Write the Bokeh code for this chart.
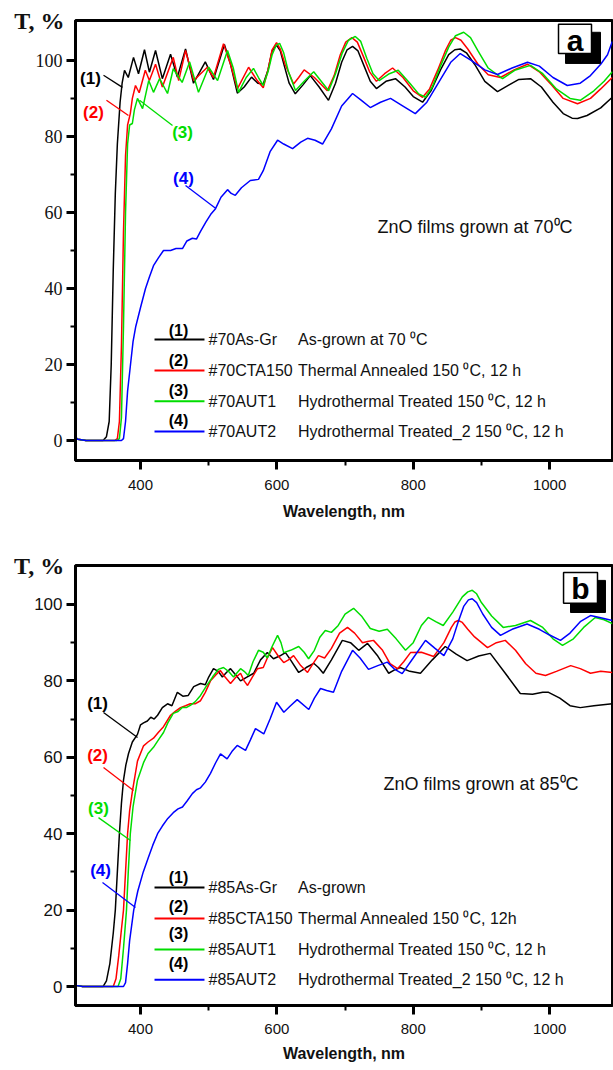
from bokeh.plotting import figure
from bokeh.layouts import column
from bokeh.models import Range1d, FixedTicker
from bokeh.core.properties import value
from bokeh.embed import file_html
from bokeh.resources import INLINE

# ---------------- DATA: panel (a) ZnO films grown at 70 C ----------------
a1_wl = [300, 308, 320, 345, 350, 354, 357, 360, 363, 366, 370, 373, 376.5, 382, 389.7, 397, 405.8, 413, 422, 432,
         444, 454, 466, 477.7, 495, 507, 523, 532, 542, 552, 562.8, 572, 580, 587, 593, 599.5, 605, 611, 618, 627,
         638, 649, 662, 675.7, 686, 695, 703, 711, 719, 728, 737, 746, 760, 774, 788, 800, 813.7, 826, 840, 852,
         861, 869, 878, 890, 905, 923.6, 940, 955, 972, 988, 1005, 1020, 1033, 1041, 1055, 1075, 1092]
a1_t = [1.5, 0.3, 0, 0, 1, 5, 20, 45, 65, 78, 89, 94, 97.4, 95.5, 100.8, 96.5, 102.8, 96.9, 102.6, 95.2,
        101.6, 95.6, 103, 94, 99.6, 95, 104.2, 99, 91.4, 93, 95.6, 94, 93.8, 97.5, 102.5, 104, 102.5, 98.5, 94, 91.2,
        93.5, 96, 93, 89.5, 94, 99.5, 102.8, 103.7, 102.5, 98.5, 94.5, 92.6, 94.5, 95.2, 93, 90.5, 89, 92, 97.5, 101.5,
        102.8, 103, 102, 99, 94.5, 91.8, 93.5, 95, 95.2, 93, 89, 86, 84.8, 84.7, 85.5, 87.5, 90.3]

a2_wl = [300, 308, 320, 362, 366, 369, 372, 375, 378, 381, 385, 388, 392.6, 398, 407, 413, 422, 432, 448, 456,
         466, 478, 498, 507, 521.7, 532, 542, 558.5, 570, 580, 587, 593, 599.5, 605, 612, 624.5, 632, 640, 655, 674,
         684, 693, 701, 710, 718, 727, 736, 746, 758, 769.7, 785, 800, 813.7, 824, 836, 847, 855, 862, 870, 880,
         895, 910, 928, 948, 967.6, 985, 1003, 1020, 1041, 1060, 1075, 1092]
a2_t = [1.5, 0.3, 0, 0, 0.5, 5, 25, 55, 75, 83, 86, 90, 93.4, 91.5, 97.4, 94.7, 99, 93, 100.8, 94.7,
        102.6, 94.7, 98.2, 95.5, 104.4, 99, 92.5, 98.2, 95, 92.8, 97.5, 102.8, 104.7, 103, 99, 93.8, 95.5, 97.5, 95.5, 92,
        96, 101.5, 104.8, 106, 104.8, 101, 97, 94.5, 96.5, 98, 95.5, 92, 90.3, 92.5, 97.5, 102.5, 105.3, 106, 105.3, 103,
        99, 96.2, 95.5, 97.5, 99, 97, 93.5, 90, 88.6, 90, 92.5, 95.5]

a3_wl = [300, 308, 320, 365, 369, 372, 375, 378, 381, 384, 388, 391, 395.5, 403, 412, 419, 428, 439.6, 448, 461,
         472, 485, 500, 513, 527.6, 536, 543.7, 555, 565.7, 573, 580, 587, 593, 599, 604, 610, 617, 627.3, 640, 654,
         665, 676, 686, 696, 705, 715, 723, 732, 741, 750, 765, 778, 795, 808, 818, 828, 840, 852, 862, 874,
         884, 895, 910, 931, 950, 972, 990, 1010, 1030, 1045, 1065, 1080, 1092]
a3_t = [1.5, 0.3, 0, 0, 0.5, 6, 30, 60, 78, 83, 83.4, 87, 90, 87.3, 94.7, 91.6, 95.2, 91.3, 97.8, 94.2,
        99.6, 91.6, 98.2, 94.7, 102.6, 98, 91.6, 95.5, 97.9, 95.5, 93.4, 97, 101.5, 104, 104.5, 102, 97, 92.1, 94.5, 97,
        94.5, 92, 96.5, 102, 105.3, 106.3, 105, 100.5, 96.5, 94.7, 96.5, 97.4, 94, 91.2, 90.3, 93, 98.5, 103.5, 106.5, 107.4,
        106, 102.5, 98, 95.2, 97.5, 98.7, 96.5, 92.5, 90, 89.5, 92, 94.5, 97]

a4_wl = [300, 308, 320, 372, 375, 378, 381, 385.3, 389, 393, 400, 407.3, 413, 419, 426, 433.7, 444, 452, 461.5, 468,
         476, 482, 488, 496, 503, 510, 518, 527.6, 533, 539, 548, 561, 573, 580, 590, 601, 610, 623, 635, 645,
         656, 667, 680, 695, 711, 724, 737, 752, 766.7, 785, 803, 820, 840, 855, 869, 885, 905, 923.6, 945, 967.6,
         985, 1005, 1026, 1045, 1060, 1075, 1085, 1092]
a4_t = [1.5, 0.3, 0, 0, 0.5, 5, 13, 20, 26, 30, 35, 40, 43, 46, 48, 50, 50, 50.5, 50.5, 52.5,
        53.2, 53, 55, 57.5, 59.5, 61, 64, 66, 65, 64.5, 66.5, 68.4, 68.7, 71, 76, 79, 78, 76.8, 78.5, 79.5,
        79, 78, 82, 88, 91.3, 89.5, 87.6, 89, 90, 88, 86, 89, 95, 99.5, 101.8, 100, 97.5, 96.3, 98, 99.5,
        98.5, 95.5, 93.4, 94, 96, 99, 101.5, 105]

# ---------------- DATA: panel (b) ZnO films grown at 85 C ----------------
b1_wl = [300, 305, 315, 345, 350, 355, 360, 363, 366, 369, 372, 375, 378.5, 382.4, 388, 395.5, 400, 404.4, 410, 415,
         420, 425, 432, 439.6, 446, 454, 462, 470, 478, 488, 495, 500, 507, 514, 520, 526, 532, 540, 546.7, 556,
         566, 576, 586, 595, 604, 612.6, 620, 632, 643, 654, 661, 668, 680, 696, 708, 720, 733, 748, 764, 772,
         781, 795, 810.6, 828, 847, 863, 879, 896, 913, 935, 957, 975, 990, 998.5, 1015, 1030, 1045, 1065, 1092]
b1_t = [0.5, 0.3, 0, 0, 1.5, 6, 14, 20, 30, 40, 48, 54, 58, 61, 64, 66, 68.5, 69, 69.5, 70.5,
        70, 71, 73, 74, 73.5, 77, 76, 76.2, 78.5, 79.3, 79, 81, 83.2, 82.5, 81, 82.2, 83.2, 81.5, 80, 81,
        82, 85.5, 87.4, 85.8, 86.5, 87.4, 85.5, 82.2, 83.5, 84.6, 83.5, 82, 85.5, 90.6, 90, 88, 89.8, 86.5, 82, 82.8,
        83.5, 82.5, 82, 85.5, 89, 87, 85.3, 86.5, 87.2, 82, 76.7, 76.5, 77, 77, 75.5, 73.5, 73, 73.5, 74]

b2_wl = [300, 305, 315, 360, 364, 368, 372, 375, 378, 381, 384, 388, 395.5, 404.4, 411, 419, 426, 433.7, 444, 451,
         458.6, 466, 473, 480, 488, 495, 502.6, 510, 517, 524, 532, 540, 546.7, 552, 557, 564, 571.6, 580, 586, 593.6,
         602, 610, 617, 624.5, 635, 645, 653, 661, 670, 680, 692, 703.6, 714, 725.6, 733, 741.7, 755, 766, 777, 786,
         796, 812, 830, 845, 856, 861, 866, 872, 880, 890, 909, 922, 935, 950, 965, 980, 994, 1010, 1031, 1045,
         1060, 1075, 1092]
b2_t = [0.5, 0.3, 0, 0, 2, 8, 15, 20, 30, 40, 46, 51, 59, 63, 64, 65, 66.5, 68, 71, 72,
        73, 73.5, 74, 74, 74.8, 77, 80, 81.5, 82.7, 81, 79.3, 81, 82, 80, 78.8, 81, 83.2, 83.5, 86, 88.7,
        86.5, 84.8, 85.5, 86.6, 84, 82.2, 84.5, 86.6, 86, 88.5, 92.5, 94, 92.5, 90, 90.3, 90.6, 88, 84.5, 83.2, 85,
        87.4, 87.5, 86.4, 90, 94, 95.4, 95.8, 95.3, 93.5, 91.5, 88.7, 90, 90.6, 88, 84.5, 82, 81.4, 82.5, 84, 83.2,
        82, 82.5, 82.2]

b3_wl = [300, 305, 315, 367, 371, 375, 379.4, 382, 385, 389, 395.5, 404.4, 411, 419, 426, 433.7, 440, 448, 455, 461,
         467, 473, 480, 488, 496, 505.6, 514, 521.7, 529, 536.4, 541, 546.7, 552, 558, 565, 573, 580, 586, 593, 601,
         606, 610, 620, 632, 640, 646.5, 655, 663, 671, 680, 690, 700, 712.5, 724, 737, 750, 762, 775, 788.7, 800,
         812, 822, 833, 844, 858, 872, 880, 886.6, 893, 900, 915, 932, 950, 972, 990, 1005, 1019, 1035, 1050, 1067,
         1080, 1092]
b3_t = [0.5, 0.3, 0, 0, 2, 10, 20, 30, 40, 47, 54, 58.6, 61, 62.6, 64.5, 66.5, 69, 71.5, 72, 73,
        73, 73.6, 74.5, 76.2, 78.5, 81, 83, 83.5, 82.5, 81, 82, 83.2, 82.5, 81.4, 85, 88, 87.5, 86, 89, 91.9,
        90, 87.4, 88, 89, 87.5, 85.8, 88, 91.4, 93.2, 92.7, 94.5, 97.5, 99, 97, 93.7, 93, 93.5, 91, 88, 90,
        94.5, 96.6, 95.5, 94.5, 98, 102, 103.3, 103.7, 102.8, 100.5, 97, 94, 94.5, 95.8, 94, 91, 89.3, 91, 94, 96.6,
        96, 95]

b4_wl = [300, 305, 315, 375, 378, 381, 384, 387, 390, 396, 404, 412, 418, 425, 432, 440, 448, 455, 461.5, 468,
         476, 482, 488, 495, 502.6, 510, 517.3, 527, 534, 541.8, 554, 561, 568.6, 580.8, 590, 599.5, 610.2, 620, 629.8, 646.8,
         655, 664, 673, 683, 695, 711, 722, 734.4, 748, 762, 773, 783.8, 800, 818, 832, 845, 858, 866, 874, 881,
         886.5, 893, 902, 915, 928, 945, 967, 985, 1000, 1016, 1030, 1045, 1060, 1075, 1092]
b4_t = [0.5, 0.3, 0, 0, 1, 6, 12, 16, 20, 25, 30, 34, 37, 40, 42, 44, 45.5, 46.5, 47, 48.5,
        50.5, 51.5, 52, 53.5, 55.8, 58.5, 60.9, 59.6, 61.5, 63.1, 61.8, 64.5, 67.5, 66.1, 70, 74.4, 71.8, 73.5, 75.1, 72.5,
        75.5, 78, 77.5, 77, 82.5, 88, 86, 83, 84, 84.9, 83, 81.9, 86, 90.6, 88.5, 86.6, 91, 95.5, 99.5, 101.2,
        101.5, 100.5, 97.5, 94, 91.9, 93.5, 94.9, 93.5, 92, 90.6, 92.5, 95.5, 97.1, 96.5, 95.8]

colors = ["#000000", "#ff0000", "#00dd00", "#0000ff"]
x_ticks = [400, 600, 800, 1000]
x_minor = [300, 500, 700, 900, 1100]
y_ticks = [0, 20, 40, 60, 80, 100]
y_minor = [10, 30, 50, 70, 90]

a_codes = ["#70As-Gr", "#70CTA150", "#70AUT1", "#70AUT2"]
a_desc = ["As-grown at 70 \u2070C", "Thermal Annealed 150 \u2070C, 12 h",
          "Hydrothermal Treated 150 \u2070C, 12 h", "Hydrothermal Treated_2 150 \u2070C, 12 h"]
b_codes = ["#85As-Gr", "#85CTA150", "#85AUT1", "#85AUT2"]
b_desc = ["As-grown", "Thermal Annealed 150 \u2070C, 12h",
          "Hydrothermal Treated 150 \u2070C, 12 h", "Hydrothermal Treated_2 150 \u2070C, 12 h"]
nums = ["(1)", "(2)", "(3)", "(4)"]

SANS = "Liberation Sans"
SERIF = "Liberation Serif"
X0, X1 = 304.6, 1092.3


def make_panel(series, yr, height, mb_top, mb_bottom, ytick_font, ytick_size,
               callouts, legend_y, legend_num_y, codes, desc, note, note_xy, letter, box, shadow, letter_xy,
               ylabel_standoff, label_standoff, title_standoff):
    p = figure(width=613, height=height, x_range=Range1d(X0, X1), y_range=Range1d(*yr),
               output_backend="svg", toolbar_location=None,
               min_border_left=75, min_border_right=1, min_border_top=mb_top, min_border_bottom=mb_bottom)
    p.grid.visible = False
    p.outline_line_color = "black"
    p.outline_line_width = 3
    p.background_fill_color = "white"
    p.border_fill_color = "white"

    for ax in (p.xaxis[0], p.yaxis[0]):
        ax.axis_line_width = 3
        ax.major_tick_line_width = 3
        ax.minor_tick_line_width = 2
        ax.major_tick_in = 0
        ax.minor_tick_in = 0
        ax.major_tick_out = 9
        ax.minor_tick_out = 5
    p.xaxis.ticker = FixedTicker(ticks=x_ticks, minor_ticks=x_minor)
    p.yaxis.ticker = FixedTicker(ticks=y_ticks, minor_ticks=y_minor)
    p.xaxis.major_label_text_font = SANS
    p.xaxis.major_label_text_font_size = "15px"
    p.xaxis.major_label_standoff = label_standoff
    p.xaxis.axis_label = "Wavelength, nm"
    p.xaxis.axis_label_text_font = SANS
    p.xaxis.axis_label_text_font_style = "bold"
    p.xaxis.axis_label_text_font_size = "16px"
    p.xaxis.axis_label_standoff = title_standoff
    p.xaxis.axis_label_text_color = "#111111"
    p.yaxis.major_label_text_font = ytick_font
    p.yaxis.major_label_text_font_size = ytick_size
    p.yaxis.major_label_standoff = 4
    p.xaxis.major_label_text_color = "#111111"
    p.yaxis.major_label_text_color = "#111111"

    # y-axis title "T, %" sitting horizontally at the top of the axis
    p.yaxis.axis_label = "T, %"
    p.yaxis.axis_label_orientation = "horizontal"
    p.yaxis.axis_label_align = "end"
    p.yaxis.axis_label_standoff = ylabel_standoff
    p.yaxis.axis_label_text_font = SERIF
    p.yaxis.axis_label_text_font_style = "bold"
    p.yaxis.axis_label_text_font_size = "24px"
    p.yaxis.axis_label_text_color = "#111111"

    # curves
    for (wl, t), c in zip(series, colors):
        p.line(wl, t, line_color=c, line_width=1.5)

    # call-out labels with leader lines
    for (tx, ty, lx0, ly0, lx1, ly1), c, n in zip(callouts, colors, nums):
        p.segment(x0=[lx0], y0=[ly0], x1=[lx1], y1=[ly1], line_color=c, line_width=1.3)
        p.text(x=[tx], y=[ty], text=[n], text_color=c, text_font=value(SANS), text_font_style="bold",
               text_font_size="17px", text_align="center", text_baseline="middle")

    # custom legend
    lx0, lx1, lnum, lcode, ldesc = 420.5, 493.8, 455.7, 499.7, 631.0
    for i in range(4):
        p.segment(x0=[lx0], y0=[legend_y[i]], x1=[lx1], y1=[legend_y[i]], line_color=colors[i], line_width=2)
    p.text(x=[lnum] * 4, y=legend_num_y, text=nums, text_color="black", text_font=value(SANS),
           text_font_style="bold", text_font_size="16px", text_align="center", text_baseline="middle")
    p.text(x=[lcode] * 4, y=legend_y, text=codes, text_color="#111111", text_font=value(SANS),
           text_font_size="16px", text_align="left", text_baseline="middle")
    p.text(x=[ldesc] * 4, y=legend_y, text=desc, text_color="#111111", text_font=value(SANS),
           text_font_size="16px", text_align="left", text_baseline="middle")

    # note
    p.text(x=[note_xy[0]], y=[note_xy[1]], text=[note], text_color="#111111", text_font=value(SANS),
           text_font_size="18px", text_align="left", text_baseline="middle")

    # panel letter box with shadow
    p.quad(left=[shadow[0]], right=[shadow[1]], top=[shadow[2]], bottom=[shadow[3]],
           fill_color="black", line_color="black")
    p.quad(left=[box[0]], right=[box[1]], top=[box[2]], bottom=[box[3]],
           fill_color="white", line_color="black", line_width=1.5)
    p.text(x=[letter_xy[0]], y=[letter_xy[1]], text=[letter], text_color="black", text_font=value(SANS),
           text_font_style="bold", text_font_size="30px", text_align="center", text_baseline="middle")
    return p


pa = make_panel(
    series=[(a1_wl, a1_t), (a2_wl, a2_t), (a3_wl, a3_t), (a4_wl, a4_t)],
    yr=(-5.26, 110.5), height=530, mb_top=20, mb_bottom=70,
    ytick_font=SERIF, ytick_size="18px",
    callouts=[(326.6, 95.3, 345.7, 96.1, 373.5, 92.9),
              (331.0, 86.3, 350.0, 89.5, 382.3, 85.5),
              (461.6, 81.0, 446.9, 82.9, 398.5, 89.5),
              (463.0, 68.9, 466.0, 67.1, 510.0, 61.1)],
    legend_y=[26.6, 18.4, 10.3, 2.4], legend_num_y=[29.0, 21.0, 13.2, 5.3],
    codes=a_codes, desc=a_desc,
    note="ZnO films grown at 70\u2070C", note_xy=(747.6, 56.1),
    letter="a", box=(1013.1, 1061.5, 109.5, 101.8), shadow=(1023.4, 1074.7, 107.4, 99.2),
    letter_xy=(1037.3, 105.3), ylabel_standoff=-32, label_standoff=10, title_standoff=10)

pb = make_panel(
    series=[(b1_wl, b1_t), (b2_wl, b2_t), (b3_wl, b3_t), (b4_wl, b4_t)],
    yr=(-4.97, 110.2), height=540, mb_top=35, mb_bottom=65,
    ytick_font=SANS, ytick_size="17px",
    callouts=[(336.9, 74.1, 345.7, 71.7, 395.6, 65.2),
              (336.9, 60.5, 345.7, 57.3, 389.7, 51.3),
              (338.3, 46.6, 338.3, 44.2, 385.3, 38.2),
              (341.3, 30.4, 344.2, 27.2, 392.6, 20.7)],
    legend_y=[25.9, 17.8, 9.7, 1.8], legend_num_y=[28.6, 21.0, 13.9, 6.0],
    codes=b_codes, desc=b_desc,
    note="ZnO films grown at 85\u2070C", note_xy=(756.4, 53.1),
    letter="b", box=(1020.5, 1070.3, 108.4, 100.3), shadow=(1030.7, 1082.0, 106.3, 97.9),
    letter_xy=(1045.4, 104.3), ylabel_standoff=-33, label_standoff=9, title_standoff=8)

layout = column(pa, pb, spacing=0)
open("out.html", "w").write(file_html(layout, INLINE))
